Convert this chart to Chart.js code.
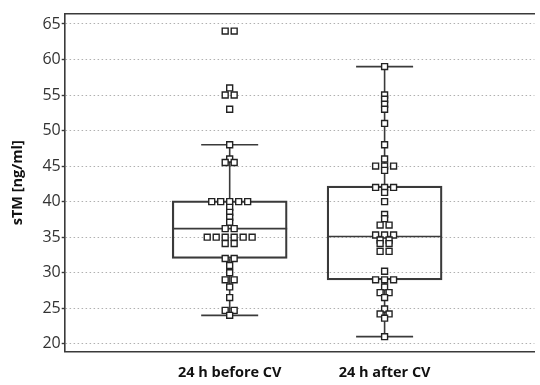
<!DOCTYPE html>
<html>
<head>
<meta charset="utf-8">
<script src="https://cdn.jsdelivr.net/npm/chart.js@4.4.1/dist/chart.umd.min.js"></script>
<style>
  html, body { margin: 0; padding: 0; background: #fff; }
  #wrap { width: 540px; height: 385px; }
</style>
</head>
<body>
<div id="wrap"><canvas id="chart"></canvas></div>
<script>
// Groups and box statistics
const categories = ['24 h before CV', '24 h after CV'];
const whiskerLow = [24, 21];
const q1 = [32, 29];
const median = [36.2, 35.1];
const q3 = [40.1, 42.2];
const whiskerHigh = [48, 59];

// Individual measurements (sTM, ng/ml)
const beforeValues = [64, 64, 56, 55, 55, 53, 48, 46, 45.5, 45.5,
    40, 40, 40, 40, 40, 39.2, 38.5, 37.8, 37.1, 36.2, 36.2,
    35, 35, 35, 35, 35, 35, 34.1, 34.1, 32, 32, 31, 30, 29, 29, 28,
    26.5, 24.7, 24.7, 24];
const afterValues = [59, 55, 54.4, 53.7, 53, 51, 48, 46, 45, 45, 45, 44.4,
    42, 42, 42, 41.3, 40, 38.2, 37.6, 36.7, 36.7, 35.3, 35.3, 35.3,
    34.6, 34.6, 34.1, 34.1, 33, 33, 30.2, 29, 29, 29, 28, 27.2, 27.2,
    26.5, 24.9, 24.2, 24.2, 23.6, 21];

const yTicks = [20, 25, 30, 35, 40, 45, 50, 55, 60, 65];

const ink = '#3a3a3a';
const dodgeStep = 0.058; // horizontal spacing of equal values, in x units
const capHalf = 0.184;
const boxHalf = 0.371;

// spread equal values side by side, like a dot plot
function dodge(values, center) {
    const counts = {};
    values.forEach(v => { counts[v] = (counts[v] || 0) + 1; });
    const seen = {};
    return values.map(v => {
        const n = counts[v];
        const i = seen[v] || 0;
        seen[v] = i + 1;
        return { x: center + (i - (n - 1) / 2) * dodgeStep, y: v };
    });
}

// whiskers, caps and median line as one broken line per group
function boxLines(i) {
    const c = i + 1;
    return [
        { x: c, y: whiskerLow[i] }, { x: c, y: q1[i] }, null,
        { x: c, y: q3[i] }, { x: c, y: whiskerHigh[i] }, null,
        { x: c - capHalf, y: whiskerLow[i] }, { x: c + capHalf, y: whiskerLow[i] }, null,
        { x: c - capHalf, y: whiskerHigh[i] }, { x: c + capHalf, y: whiskerHigh[i] }, null,
        { x: c - boxHalf, y: median[i] }, { x: c + boxHalf, y: median[i] }
    ].map(p => p === null ? { x: c, y: null } : p);
}

const ctx = document.getElementById('chart').getContext('2d');
const lineStyle = {
    type: 'line',
    borderColor: ink,
    borderWidth: 1.6,
    pointRadius: 0,
    spanGaps: false,
    fill: false,
    order: 2
};

new Chart(ctx, {
    data: {
        datasets: [
            {
                type: 'bar',
                data: categories.map((c, i) => ({ x: i + 1, y: [q1[i], q3[i]] })),
                backgroundColor: 'rgba(255,255,255,0)',
                borderColor: ink,
                borderWidth: 1.6,
                borderSkipped: false,
                barThickness: 115,
                order: 3
            },
            Object.assign({ data: boxLines(0) }, lineStyle),
            Object.assign({ data: boxLines(1) }, lineStyle),
            {
                type: 'scatter',
                data: dodge(beforeValues, 1).concat(dodge(afterValues, 2)),
                pointStyle: 'rect',
                pointRadius: 4.2,
                pointBorderWidth: 1.4,
                pointBackgroundColor: '#fff',
                pointBorderColor: '#222',
                order: 1
            }
        ]
    },
    options: {
        responsive: true,
        maintainAspectRatio: false,
        animation: false,
        layout: { padding: { top: 6, right: -7, left: 9, bottom: -2 } },
        plugins: {
            legend: { display: false },
            tooltip: { enabled: false }
        },
        scales: {
            x: {
                type: 'linear',
                offset: false,
                min: -0.065,
                max: 2.967,
                afterBuildTicks: axis => { axis.ticks = [1, 2].map(v => ({ value: v })); },
                ticks: {
                    callback: v => categories[v - 1],
                    color: '#111',
                    font: { family: 'Open Sans', size: 14.5, weight: 'bold' },
                    padding: 5,
                    maxRotation: 0,
                    autoSkip: false
                },
                grid: { display: false },
                border: { color: ink, width: 1.6 }
            },
            xTop: {
                type: 'linear',
                position: 'top',
                offset: false,
                min: -0.065,
                max: 2.967,
                ticks: { display: false },
                grid: { display: false },
                border: { color: ink, width: 1.6 }
            },
            y: {
                min: 18.9,
                max: 66.4,
                afterBuildTicks: axis => { axis.ticks = yTicks.map(v => ({ value: v })); },
                ticks: {
                    color: '#333',
                    font: { family: 'Open Sans', size: 16 },
                    padding: 1
                },
                grid: {
                    color: '#b0b0b0',
                    lineWidth: 1,
                    drawTicks: true,
                    tickLength: 3,
                    tickColor: ink,
                    tickWidth: 1.4,
                    tickBorderDash: []
                },
                border: { color: ink, width: 1.6, dash: [1.5, 2.5] },
                title: {
                    display: true,
                    text: 'sTM [ng/ml]',
                    color: '#111',
                    font: { family: 'Open Sans', size: 14.5, weight: 'bold' },
                    padding: { top: 0, bottom: 15 }
                }
            }
        }
    }
});
</script>
</body>
</html>
